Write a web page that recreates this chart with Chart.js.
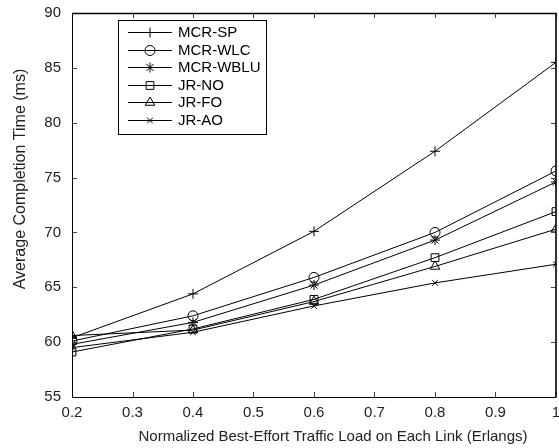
<!DOCTYPE html>
<html>
<head>
<meta charset="utf-8">
<script src="https://cdn.jsdelivr.net/npm/chart.js@4/dist/chart.umd.min.js"></script>
<style>
  html, body { margin: 0; padding: 0; background: #fff; }
  #wrap { width: 559px; height: 448px; }
</style>
</head>
<body>
<div id="wrap"><canvas id="c" width="559" height="448"></canvas></div>
<script>
// Traffic load on each link (Erlangs)
const loads = [0.2, 0.4, 0.6, 0.8, 1.0];

// Average completion time (ms) per scheme
const mcrSp   = [60.4, 64.4, 70.1, 77.4, 85.5];
const mcrWlc  = [60.1, 62.4, 65.9, 70.0, 75.6];
const mcrWblu = [59.8, 61.8, 65.2, 69.3, 74.6];
const jrNo    = [59.1, 61.2, 63.9, 67.7, 71.9];
const jrFo    = [60.6, 61.1, 63.7, 66.9, 70.3];
const jrAo    = [59.5, 60.9, 63.3, 65.4, 67.1];

const seriesNames = ['MCR-SP', 'MCR-WLC', 'MCR-WBLU', 'JR-NO', 'JR-FO', 'JR-AO'];
const seriesValues = [mcrSp, mcrWlc, mcrWblu, jrNo, jrFo, jrAo];
const markers = ['cross', 'circle', 'star', 'rect', 'triangle', 'crossRot'];
const markerSizes = [5, 5, 5, 5.5, 5.5, 4];

const xTickValues = [0.2, 0.3, 0.4, 0.5, 0.6, 0.7, 0.8, 0.9, 1.0];
const xTickLabels = ['0.2', '0.3', '0.4', '0.5', '0.6', '0.7', '0.8', '0.9', '1'];
const yTickValues = [55, 60, 65, 70, 75, 80, 85, 90];

const xTitle = 'Normalized Best-Effort Traffic Load on Each Link (Erlangs)';
const yTitle = 'Average Completion Time (ms)';

const FONT = '"Liberation Sans", Arial, Helvetica, sans-serif';

// Plot box in canvas pixels
const AREA = { left: 72, top: 13, right: 556, bottom: 397 };

const datasets = seriesNames.map((name, i) => ({
  label: name,
  data: loads.map((x, j) => ({ x: x, y: seriesValues[i][j] })),
  borderColor: '#000',
  borderWidth: 1,
  backgroundColor: 'rgba(0,0,0,0)',
  pointStyle: markers[i],
  pointRadius: markerSizes[i],
  pointBorderColor: '#000',
  pointBorderWidth: 1,
  pointBackgroundColor: 'rgba(0,0,0,0)',
  tension: 0,
  fill: false
}));

// Box frame with inward ticks on all four sides
const frameTicks = {
  id: 'frameTicks',
  afterDraw(chart) {
    const { ctx, chartArea: a, scales } = chart;
    const len = 5;
    ctx.save();
    ctx.strokeStyle = '#444';
    ctx.lineWidth = 1;
    ctx.beginPath();
    xTickValues.forEach(v => {
      const px = Math.round(scales.x.getPixelForValue(v)) + 0.5;
      ctx.moveTo(px, a.bottom); ctx.lineTo(px, a.bottom - len);
      ctx.moveTo(px, a.top); ctx.lineTo(px, a.top + len);
    });
    yTickValues.forEach(v => {
      const py = Math.round(scales.y.getPixelForValue(v)) + 0.5;
      ctx.moveTo(a.left, py); ctx.lineTo(a.left + len, py);
      ctx.moveTo(a.right, py); ctx.lineTo(a.right - len, py);
    });
    ctx.stroke();

    ctx.strokeStyle = '#000';
    ctx.lineWidth = 1;
    ctx.beginPath();
    ctx.moveTo(a.left + 0.5, a.top); ctx.lineTo(a.left + 0.5, a.bottom + 0.5);
    ctx.lineTo(a.right, a.bottom + 0.5);
    ctx.stroke();
    ctx.lineWidth = 1.6;
    ctx.beginPath();
    ctx.moveTo(a.left, a.top + 0.5); ctx.lineTo(a.right, a.top + 0.5);
    ctx.lineTo(a.right, a.bottom + 0.5);
    ctx.stroke();
    ctx.restore();
  }
};

// Axis titles
const axisTitles = {
  id: 'axisTitles',
  afterDraw(chart) {
    const { ctx } = chart;
    ctx.save();
    ctx.fillStyle = '#222';
    ctx.textAlign = 'center';
    ctx.textBaseline = 'middle';
    ctx.font = '15px ' + FONT;
    ctx.fillText(xTitle, 333, 437);
    ctx.translate(21, 179);
    ctx.rotate(-Math.PI / 2);
    ctx.font = '16px ' + FONT;
    ctx.fillText(yTitle, 0, 0);
    ctx.restore();
  }
};

// Boxed legend in the upper-left corner of the plot
const boxLegend = {
  id: 'boxLegend',
  afterDraw(chart) {
    const { ctx } = chart;
    const bx = 118, by = 20, bw = 148, bh = 114;
    const rowH = 17.6, firstY = 32;
    ctx.save();
    ctx.fillStyle = '#fff';
    ctx.fillRect(bx, by, bw, bh);
    ctx.strokeStyle = '#000';
    ctx.lineWidth = 1;
    ctx.strokeRect(bx + 0.5, by + 0.5, bw, bh);
    ctx.font = '15px ' + FONT;
    ctx.textBaseline = 'middle';
    ctx.textAlign = 'left';
    chart.data.datasets.forEach((ds, i) => {
      const y = Math.round(firstY + i * rowH) + 0.5;
      ctx.strokeStyle = '#000';
      ctx.lineWidth = 1;
      ctx.beginPath();
      ctx.moveTo(128, y); ctx.lineTo(172, y);
      ctx.stroke();
      ctx.fillStyle = 'rgba(0,0,0,0)';
      Chart.helpers.drawPoint(ctx, {
        pointStyle: ds.pointStyle, radius: ds.pointRadius, rotation: 0, borderWidth: 1
      }, 150, y);
      ctx.fillStyle = '#000';
      ctx.fillText(ds.label, 178, y + 0.5);
    });
    ctx.restore();
  }
};

new Chart(document.getElementById('c'), {
  type: 'line',
  data: { datasets: datasets },
  options: {
    responsive: false,
    animation: false,
    layout: { autoPadding: false, padding: { top: 0, right: 0, left: 0, bottom: 0 } },
    plugins: { legend: { display: false }, tooltip: { enabled: false } },
    scales: {
      x: {
        type: 'linear',
        min: 0.2, max: 1.0,
        // pin the horizontal extent of the plot box
        afterFit(scale) {
          scale.height = 448 - AREA.bottom;
          scale.paddingLeft = 0; scale.paddingRight = 0;
        },
        afterBuildTicks(scale) { scale.ticks = xTickValues.map(v => ({ value: v })); },
        grid: { display: false, drawTicks: false },
        border: { display: false },
        ticks: {
          padding: 7,
          color: '#222',
          font: { family: FONT, size: 15 },
          callback: (v) => xTickLabels[xTickValues.findIndex(t => Math.abs(t - v) < 1e-6)]
        },
        title: { display: false }
      },
      y: {
        type: 'linear',
        min: 55, max: 90,
        afterFit(scale) {
          scale.width = AREA.left;
          scale.paddingTop = 0; scale.paddingBottom = 0;
        },
        afterBuildTicks(scale) { scale.ticks = yTickValues.map(v => ({ value: v })); },
        grid: { display: false, drawTicks: false },
        border: { display: false },
        ticks: {
          padding: 11,
          color: '#222',
          font: { family: FONT, size: 15 }
        },
        title: { display: false }
      }
    }
  },
  plugins: [
    {
      id: 'fixedArea',
      // keep the plot box at a fixed place regardless of label sizes
      beforeLayout(chart) {
        chart.options.layout.padding = {
          top: AREA.top, left: 0, right: 559 - AREA.right, bottom: 0
        };
      }
    },
    frameTicks, axisTitles, boxLegend
  ]
});
</script>
</body>
</html>
